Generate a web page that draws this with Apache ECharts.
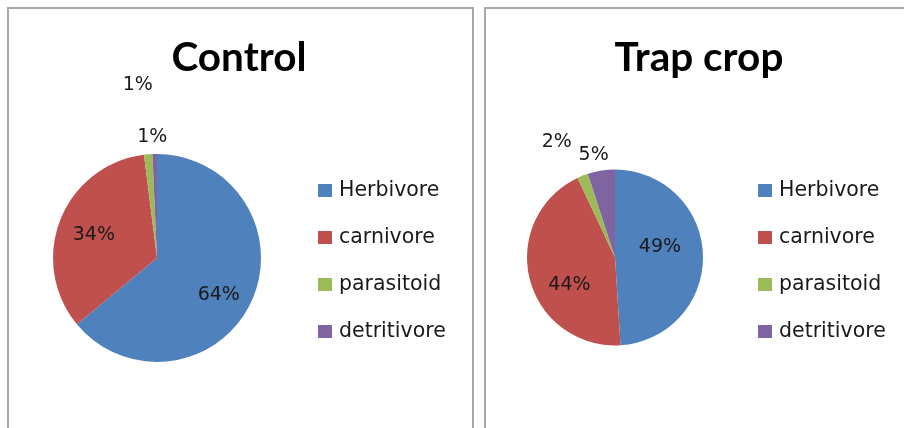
<!DOCTYPE html>
<html>
<head>
<meta charset="utf-8">
<script src="https://cdn.jsdelivr.net/npm/echarts@6/dist/echarts.min.js"></script>
<style>
  html, body { margin: 0; padding: 0; background: #fff; }
  #chart { width: 904px; height: 428px; }
</style>
</head>
<body>
<div id="chart"></div>
<script>
// feeding groups, shares in percent
const categories = ["Herbivore", "carnivore", "parasitoid", "detritivore"];
const controlValues = [64, 34, 1.3, 0.7];
const trapCropValues = [49, 44, 2, 5];
const panelTitles = ["Control", "Trap crop"];
const sliceColors = ["#4F81BD", "#C0504D", "#9BBB59", "#8064A2"];

const chart = echarts.init(document.getElementById("chart"));

function toData(values) {
  return categories.map((name, i) => ({
    name: name,
    value: values[i],
    itemStyle: { color: sliceColors[i] },
  }));
}

// nudges so labels sit where excel put them
const nudges = [
  [[12, 14], [-12, -3], [0, -66], [-18, -118]],
  [[-2, -9], [0, 16], [-41, -72], [-14, -56]],
];

function pieSeries(values, center, radius, idx) {
  return {
    type: "pie",
    center: center,
    radius: radius,
    startAngle: 90,
    clockwise: true,
    avoidLabelOverlap: false,
    data: toData(values),
    itemStyle: { borderWidth: 0 },
    label: {
      show: true,
      position: "inside",
      color: "#1a1a1a",
      fontFamily: "DejaVu Sans",
      fontSize: 19,
      formatter: (p) => Math.round(p.percent) + "%",
    },
    labelLine: { show: false },
    labelLayout: (p) => {
      const n = nudges[idx][p.dataIndex];
      return { dx: n[0], dy: n[1] };
    },
    emphasis: { disabled: true },
  };
}

function legendAt(left) {
  return {
    orient: "vertical",
    left: left,
    top: 180,
    padding: 0,
    icon: "rect",
    itemWidth: 14,
    itemHeight: 13,
    itemGap: 26,
    data: categories,
    selectedMode: false,
    textStyle: {
      color: "#1a1a1a",
      fontFamily: "DejaVu Sans",
      fontSize: 20.5,
      lineHeight: 20,
      padding: [0, 0, 0, 2],
    },
  };
}

const titleStyle = { fontFamily: "Lato", fontWeight: "bold", fontSize: 40.5, color: "#000" };

const option = {
  backgroundColor: "#ffffff",
  animation: false,
  title: [
    { text: panelTitles[0], left: 234, top: 32, textAlign: "center", textStyle: titleStyle },
    { text: panelTitles[1], left: 694, top: 32, textAlign: "center", textStyle: titleStyle },
  ],
  legend: [legendAt(318), legendAt(758)],
  graphic: [
    {
      type: "rect",
      shape: { x: 8, y: 8, width: 465, height: 440 },
      style: { fill: "none", stroke: "#a8a8a8", lineWidth: 2 },
      silent: true,
    },
    {
      type: "rect",
      shape: { x: 485, y: 8, width: 440, height: 440 },
      style: { fill: "none", stroke: "#a8a8a8", lineWidth: 2 },
      silent: true,
    },
  ],
  series: [
    pieSeries(controlValues, [157, 258], 104, 0),
    pieSeries(trapCropValues, [615, 257.5], 88, 1),
  ],
};

chart.setOption(option);
</script>
</body>
</html>
